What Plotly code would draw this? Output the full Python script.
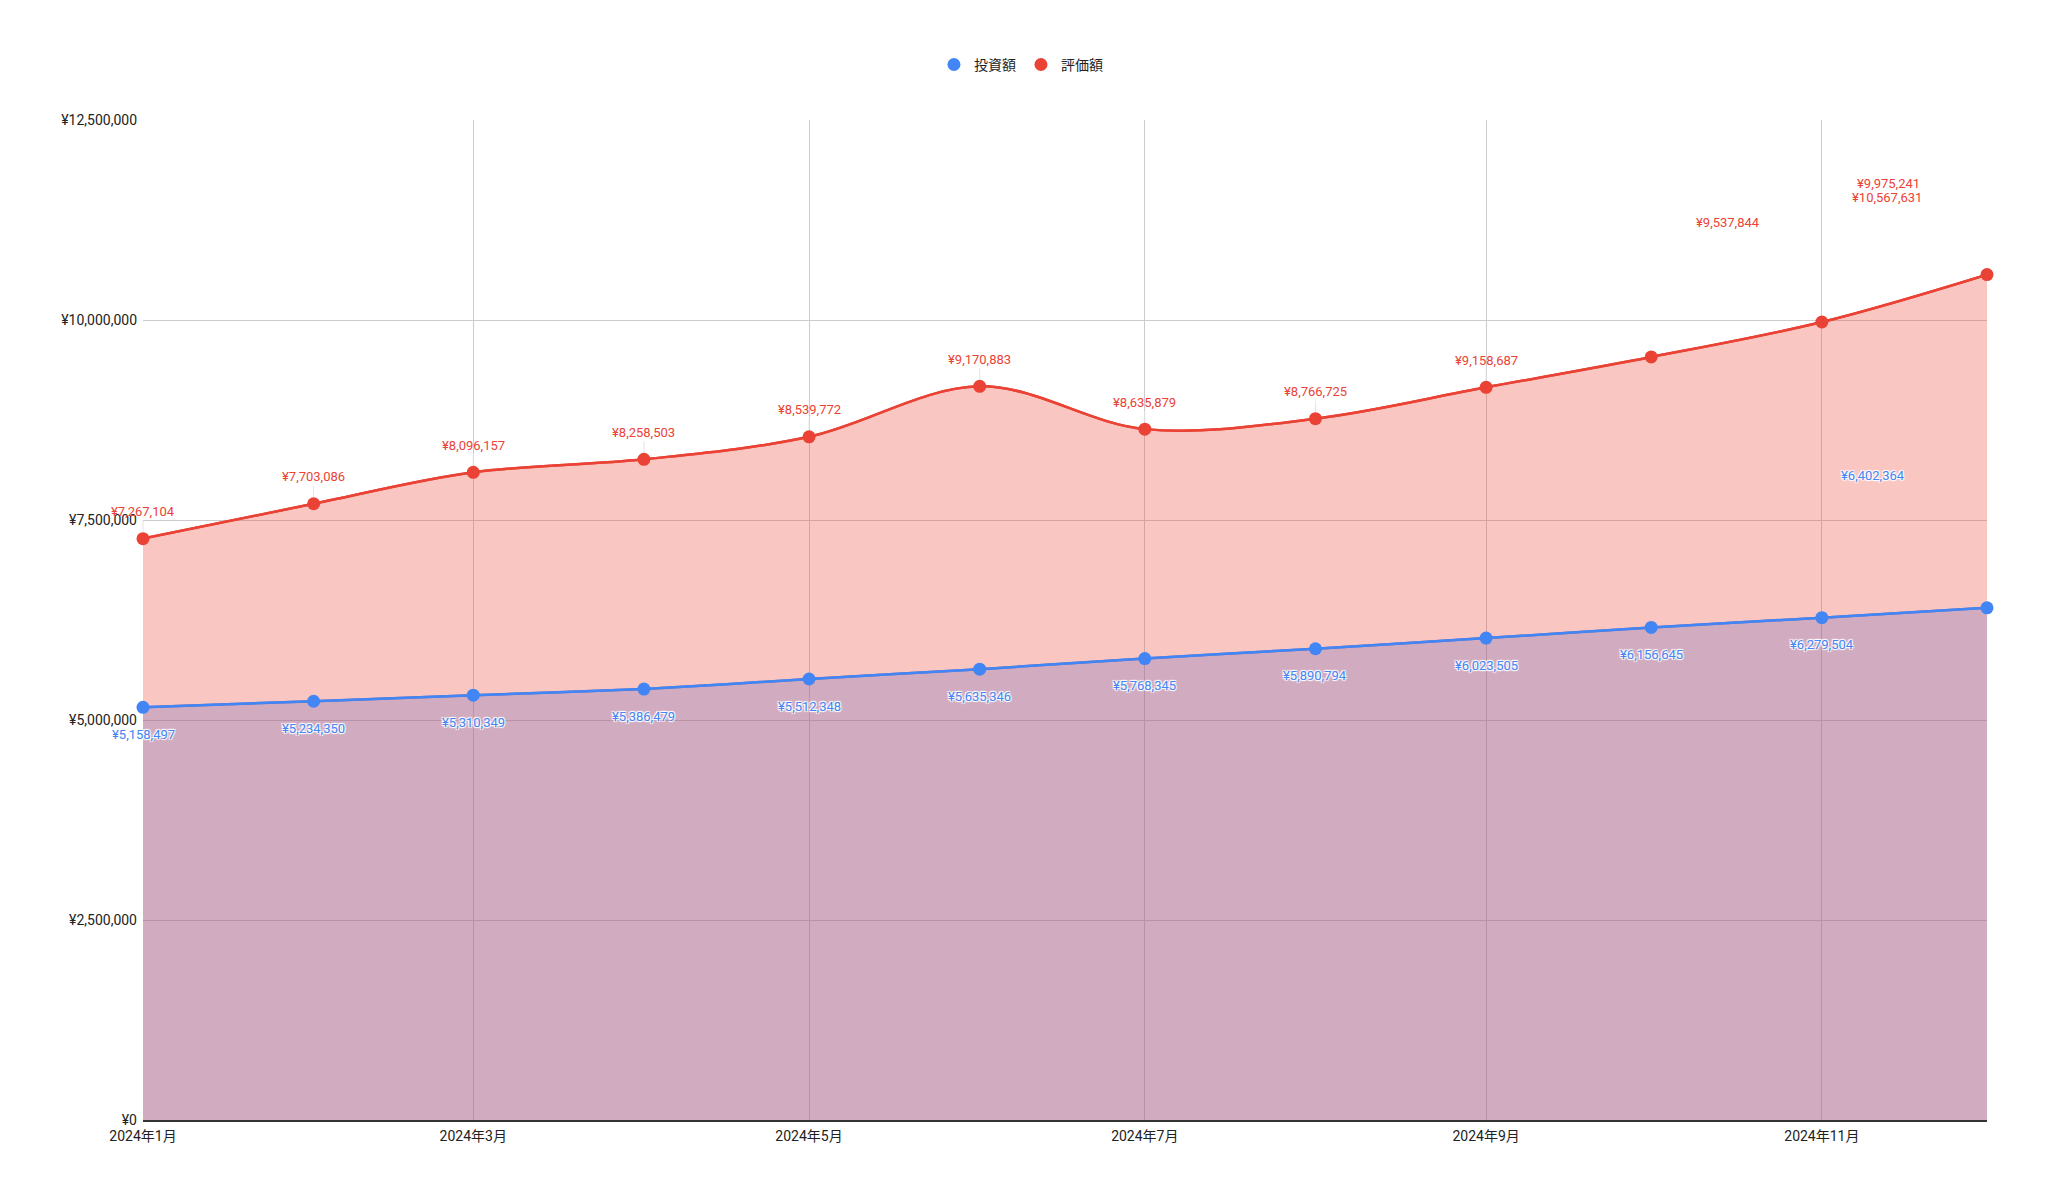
import plotly.graph_objects as go

# monthly values (1st of each month)
months = ["2024-01-01", "2024-02-01", "2024-03-01", "2024-04-01", "2024-05-01", "2024-06-01",
          "2024-07-01", "2024-08-01", "2024-09-01", "2024-10-01", "2024-11-01", "2024-12-01"]
invested = [5158497, 5234350, 5310349, 5386479, 5512348, 5635346,
            5768345, 5890794, 6023505, 6156645, 6279504, 6402364]
valuation = [7267104, 7703086, 8096157, 8258503, 8539772, 9170883,
             8635879, 8766725, 9158687, 9537844, 9975241, 10567631]

tick_dates = ["2024-01-01", "2024-03-01", "2024-05-01", "2024-07-01", "2024-09-01", "2024-11-01"]
tick_labels = ["2024年1月", "2024年3月", "2024年5月", "2024年7月", "2024年9月", "2024年11月"]
y_ticks = [0, 2500000, 5000000, 7500000, 10000000, 12500000]
y_labels = ["¥0", "¥2,500,000", "¥5,000,000", "¥7,500,000", "¥10,000,000", "¥12,500,000"]

BLUE = "#4285f4"
RED = "#ea4335"
FONT = "Roboto, 'Noto Sans CJK JP', sans-serif"
HALO = "1px 1px 1px #fff, -1px -1px 1px #fff, 1px -1px 1px #fff, -1px 1px 1px #fff"

# labels that were pushed out of the way: (series, index) -> (xshift, yshift)
moved = {("red", 9): (77, 134), ("red", 10): (67, 138), ("red", 11): (-100, 77),
         ("blue", 11): (-114, 132)}


def fmt(v):
    return "¥{:,}".format(v)


fig = go.Figure()
fig.add_trace(go.Scatter(x=months, y=invested, mode="lines", fill="tozeroy",
                         line=dict(color=BLUE, width=2.5, shape="spline", smoothing=0.6),
                         fillcolor="rgba(66,133,244,0.3)", showlegend=False, hoverinfo="skip"))
fig.add_trace(go.Scatter(x=months, y=valuation, mode="lines", fill="tozeroy",
                         line=dict(color=RED, width=2.5, shape="spline", smoothing=1),
                         fillcolor="rgba(234,67,53,0.3)", showlegend=False, hoverinfo="skip"))
fig.add_trace(go.Scatter(x=months, y=invested, mode="lines+markers", cliponaxis=False,
                         line=dict(color=BLUE, width=2.5, shape="spline", smoothing=0.6),
                         marker=dict(color=BLUE, size=13), showlegend=False))
fig.add_trace(go.Scatter(x=months, y=valuation, mode="lines+markers", cliponaxis=False,
                         line=dict(color=RED, width=2.5, shape="spline", smoothing=1),
                         marker=dict(color=RED, size=13), showlegend=False))

# legend entries (circles only)
fig.add_trace(go.Scatter(x=[None], y=[None], mode="markers", name="投資額",
                         marker=dict(color=BLUE, size=13)))
fig.add_trace(go.Scatter(x=[None], y=[None], mode="markers", name="評価額",
                         marker=dict(color=RED, size=13)))

# data labels
for i, m in enumerate(months):
    if ("red", i) in moved:
        dx, dy = moved[("red", i)]
        fig.add_annotation(x=m, y=valuation[i], text=fmt(valuation[i]), showarrow=False,
                           xshift=dx, yshift=dy, font=dict(color=RED, size=13, family=FONT))
    else:
        fig.add_annotation(x=m, y=valuation[i], text=fmt(valuation[i]), showarrow=True,
                           arrowhead=0, arrowwidth=1, arrowcolor="#e4e4e4", standoff=7,
                           ax=0, ay=-27, font=dict(color=RED, size=13, family=FONT))
    if ("blue", i) in moved:
        dx, dy = moved[("blue", i)]
    else:
        dx, dy = 0, -27
    fig.add_annotation(x=m, y=invested[i], text=fmt(invested[i]), showarrow=False,
                       xshift=dx, yshift=dy,
                       font=dict(color=BLUE, size=13, family=FONT, shadow=HALO))

fig.update_layout(
    width=2032, height=1185,
    margin=dict(l=135, r=53, t=112, b=73),
    plot_bgcolor="white", paper_bgcolor="white",
    font=dict(family=FONT, size=14, color="#222222"),
    legend=dict(orientation="h", xref="container", yref="container",
                x=0.4985, y=0.952, xanchor="center", yanchor="middle",
                font=dict(size=14, color="#222222"), itemwidth=30),
    xaxis=dict(type="date", range=["2024-01-01", "2024-12-01"],
               tickvals=tick_dates, ticktext=tick_labels,
               showgrid=True, gridcolor="#cccccc", gridwidth=1,
               showline=True, linecolor="#333333", linewidth=1.5,
               ticks="", ticklabelstandoff=2,
               tickfont=dict(size=14, color="#222222"), zeroline=False),
    yaxis=dict(range=[0, 12500000], tickvals=y_ticks, ticktext=y_labels,
               showgrid=True, gridcolor="#cccccc", gridwidth=1,
               zeroline=False, ticks="", ticklabelstandoff=5,
               tickfont=dict(size=14, color="#222222")),
)

fig.write_html("out.html")
